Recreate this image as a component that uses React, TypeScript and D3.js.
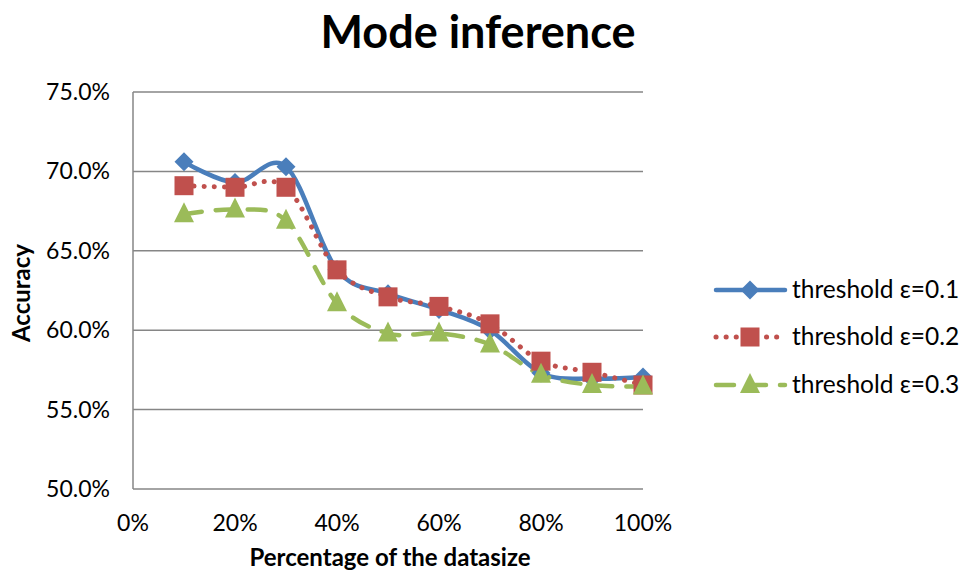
import React from "react";
import * as d3 from "d3";

const xValues = [10, 20, 30, 40, 50, 60, 70, 80, 90, 100];
const series1 = [70.6, 69.3, 70.3, 63.8, 62.3, 61.3, 60.0, 57.3, 56.95, 57.05];
const series2 = [69.1, 69.0, 69.0, 63.8, 62.1, 61.5, 60.4, 58.05, 57.35, 56.55];
const series3 = [67.3, 67.6, 66.9, 61.7, 59.8, 59.8, 59.1, 57.2, 56.55, 56.45];
const seriesNames = ["threshold ε=0.1", "threshold ε=0.2", "threshold ε=0.3"];
const xTicks = [0, 20, 40, 60, 80, 100];
const yTicks = [50, 55, 60, 65, 70, 75];

const FONT = "Lato, 'Open Sans', sans-serif";
const colors = ["#4A7EBB", "#C0504D", "#9BBB59"];

export default function App() {
  const W = 962, H = 573;
  const x = d3.scaleLinear().domain([0, 100]).range([133, 643]);
  const y = d3.scaleLinear().domain([50, 75]).range([489, 92]);
  const line = d3
    .line<number>()
    .x((_, i) => x(xValues[i]))
    .y((d) => y(d))
    .curve(d3.curveCardinal.tension(0));

  const all = [series1, series2, series3];
  const dashes = ["", "0.1 10", "18 14"];

  const diamond = (cx: number, cy: number, r: number) =>
    `M${cx},${cy - r}L${cx + r},${cy}L${cx},${cy + r}L${cx - r},${cy}Z`;
  const tri = (cx: number, cy: number, s: number) =>
    `M${cx},${cy - s * 0.6}L${cx + s / 2},${cy + s * 0.4}L${cx - s / 2},${cy + s * 0.4}Z`;

  const marker = (k: number, cx: number, cy: number, key: string) => {
    if (k === 0) return <path key={key} d={diamond(cx, cy, 9.5)} fill={colors[0]} />;
    if (k === 1) return <rect key={key} x={cx - 9.5} y={cy - 9.5} width={19} height={19} fill={colors[1]} />;
    return <path key={key} d={tri(cx, cy, 20)} fill={colors[2]} />;
  };

  const legendY = [290, 337, 385];

  return (
    <svg width={W} height={H} style={{ position: "absolute", left: 0, top: 0 }} fontFamily={FONT}>
      <rect width={W} height={H} fill="#fff" />
      <text x={478} y={48} textAnchor="middle" fontSize={45} fontWeight="bold" fill="#000">
        Mode inference
      </text>
      {yTicks.map((t) => (
        <g key={t}>
          <line x1={133} x2={643} y1={y(t)} y2={y(t)} stroke="#868686" strokeWidth={1.5} />
          <text x={110} y={y(t) + 8} textAnchor="end" fontSize={23} fill="#000">
            {t.toFixed(1)}%
          </text>
        </g>
      ))}
      <line x1={133} x2={133} y1={92} y2={489} stroke="#868686" strokeWidth={1.5} />
      {xTicks.map((t) => (
        <text key={t} x={x(t)} y={531} textAnchor="middle" fontSize={23} fill="#000">
          {t}%
        </text>
      ))}
      <text x={390} y={566} textAnchor="middle" fontSize={24} fontWeight="bold" fill="#000">
        Percentage of the datasize
      </text>
      <text
        transform={`translate(30,293) rotate(-90)`}
        textAnchor="middle"
        fontSize={24}
        fontWeight="bold"
        fill="#000"
      >
        Accuracy
      </text>
      {all.map((s, k) => (
        <path
          key={k}
          d={line(s) || ""}
          fill="none"
          stroke={colors[k]}
          strokeWidth={k === 1 ? 5 : 4.5}
          strokeDasharray={dashes[k] || undefined}
          strokeLinecap="round"
        />
      ))}
      {all.map((s, k) => s.map((v, i) => marker(k, x(xValues[i]), y(v), `${k}-${i}`)))}
      {seriesNames.map((n, k) => (
        <g key={n}>
          <line
            x1={716}
            x2={785}
            y1={legendY[k]}
            y2={legendY[k]}
            stroke={colors[k]}
            strokeWidth={k === 1 ? 5 : 4.5}
            strokeDasharray={dashes[k] || undefined}
            strokeLinecap="round"
          />
          {marker(k, 750, legendY[k], `l${k}`)}
          <text x={792} y={legendY[k] + 8} fontSize={24.5} fill="#000">
            {n}
          </text>
        </g>
      ))}
    </svg>
  );
}
